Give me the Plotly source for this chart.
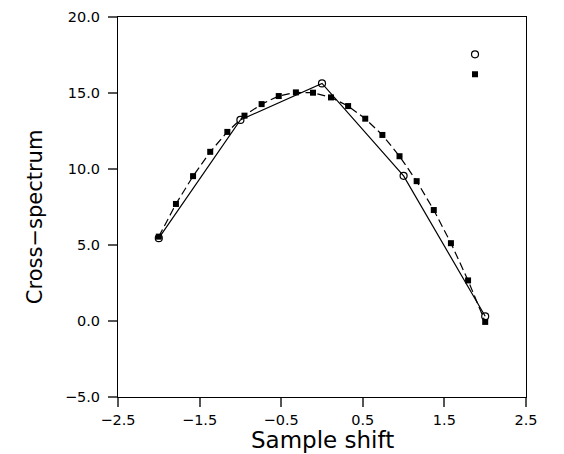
import plotly.graph_objects as go

# Coarse estimate (open circles, solid line)
x_coarse = [-2.0, -1.0, 0.0, 1.0, 2.0]
y_coarse = [5.45, 13.23, 15.63, 9.55, 0.31]

# Fine estimate (filled squares, dashed line)
x_fine = [-2.0, -1.79, -1.58, -1.37, -1.16, -0.95, -0.74, -0.53, -0.32, -0.11,
          0.11, 0.32, 0.53, 0.74, 0.95, 1.16, 1.37, 1.58, 1.79, 2.0]
y_fine = [5.55, 7.70, 9.53, 11.13, 12.44, 13.51, 14.27, 14.80, 15.04, 15.02,
          14.71, 14.14, 13.31, 12.24, 10.84, 9.20, 7.30, 5.12, 2.67, -0.06]

x_ticks = [-2.5, -1.5, -0.5, 0.5, 1.5, 2.5]
x_ticklabels = ["\u22122.5", "\u22121.5", "\u22120.5", "0.5", "1.5", "2.5"]
y_ticks = [-5, 0, 5, 10, 15, 20]
y_ticklabels = ["\u22125.0", "0.0", "5.0", "10.0", "15.0", "20.0"]

x_title = "Sample shift"
y_title = "Cross\u2212spectrum"

FONT = "DejaVu Sans"

fig = go.Figure()
fig.add_trace(go.Scatter(
    x=x_coarse, y=y_coarse, mode="lines+markers", showlegend=False,
    line=dict(color="black", width=1.2),
    marker=dict(symbol="circle-open", size=7, color="black", line=dict(width=1.2)),
))
fig.add_trace(go.Scatter(
    x=x_fine, y=y_fine, mode="lines+markers", showlegend=False,
    line=dict(color="black", width=1.2, dash="8px,4px"),
    marker=dict(symbol="square", size=6, color="black"),
))
# legend entries (markers only, no text)
fig.add_trace(go.Scatter(
    x=[None], y=[None], mode="markers", name="",
    marker=dict(symbol="circle-open", size=7, color="black", line=dict(width=1.2)),
))
fig.add_trace(go.Scatter(
    x=[None], y=[None], mode="markers", name="",
    marker=dict(symbol="square", size=6, color="black"),
))

axis_common = dict(
    showgrid=False, zeroline=False, showline=True, linecolor="black", linewidth=1,
    mirror=True, ticks="outside", ticklen=9, tickwidth=1.5, tickcolor="#555555",
    tickfont=dict(family=FONT, size=14.5, color="black"),
    automargin=False,
)

fig.update_layout(
    width=564, height=454,
    margin=dict(l=118, r=38, t=17, b=57),
    paper_bgcolor="white", plot_bgcolor="white",
    font=dict(family=FONT, color="black"),
    xaxis=dict(
        range=[-2.5, 2.5], tickmode="array", tickvals=x_ticks, ticktext=x_ticklabels,
        ticklabelstandoff=1,
        **axis_common,
    ),
    yaxis=dict(
        range=[-5, 20], tickmode="array", tickvals=y_ticks, ticktext=y_ticklabels,
        ticklabelstandoff=5,
        **axis_common,
    ),
    legend=dict(
        x=0.826, y=0.941, xanchor="left", yanchor="top",
        bgcolor="rgba(0,0,0,0)", borderwidth=0,
        font=dict(family=FONT, size=13),
        itemwidth=30,
    ),
    showlegend=True,
    annotations=[
        dict(text=x_title, xref="paper", yref="paper", x=0.5, y=-0.112,
             xanchor="center", yanchor="middle", showarrow=False,
             font=dict(family=FONT, size=23, color="black")),
        dict(text=y_title, xref="paper", yref="paper", x=-0.203, y=0.4737,
             xanchor="center", yanchor="middle", showarrow=False, textangle=-90,
             font=dict(family=FONT, size=21, color="black")),
    ],
)

fig.write_html("out.html")
